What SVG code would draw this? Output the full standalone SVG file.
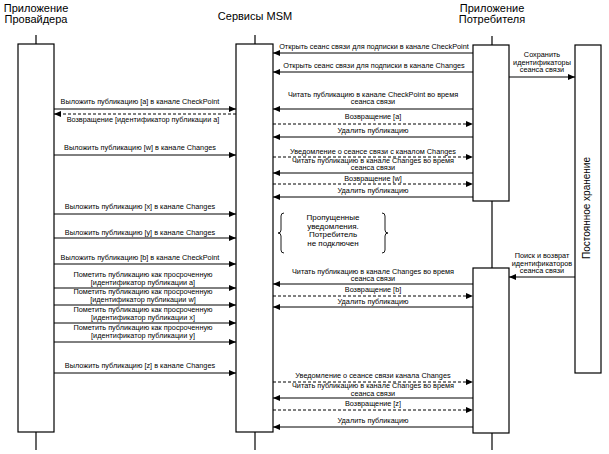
<svg xmlns="http://www.w3.org/2000/svg" width="609" height="454" viewBox="0 0 609 454">
<defs>
<marker id="ah" markerWidth="7" markerHeight="6" refX="7" refY="3" orient="auto" markerUnits="userSpaceOnUse"><path d="M0,0 L7,3 L0,6 z" fill="#000"/></marker>
<style>
.box{fill:#fff;stroke:#000;stroke-width:1.2}
.ll{stroke:#000;stroke-width:1.2}
.m{stroke:#000;stroke-width:1;fill:none;marker-end:url(#ah)}
.d{stroke-dasharray:3,2}
.t{font-family:"Liberation Sans",Arial,sans-serif;font-size:7.3px;fill:#000;text-anchor:middle}
.h{font-family:"Liberation Sans",Arial,sans-serif;font-size:11px;fill:#000;text-anchor:middle}
</style>
</defs>
<rect width="609" height="454" fill="#fff"/>
<g id="provider">
<text class="h" x="36" y="12">Приложение</text>
<text class="h" x="36" y="23">Провайдера</text>
<line class="ll" x1="36" y1="35" x2="36" y2="44"/>
<rect class="box" x="18" y="44" width="36" height="388"/>
<line class="ll" x1="36" y1="432" x2="36" y2="450"/>
</g>
<g id="msm">
<text class="h" x="255" y="20">Сервисы MSM</text>
<line class="ll" x1="255" y1="35" x2="255" y2="44"/>
<rect class="box" x="236" y="44" width="37" height="388"/>
<line class="ll" x1="255" y1="432" x2="255" y2="450"/>
</g>
<g id="consumer">
<text class="h" x="492" y="12">Приложение</text>
<text class="h" x="492" y="23">Потребителя</text>
<line class="ll" x1="492" y1="36" x2="492" y2="45"/>
<rect class="box" x="473" y="45" width="36" height="156"/>
<line class="ll" x1="492" y1="201" x2="492" y2="268"/>
<rect class="box" x="473" y="268" width="36" height="165"/>
<line class="ll" x1="492" y1="433" x2="492" y2="450"/>
</g>
<g id="storage">
<rect class="box" x="575" y="45" width="26" height="328"/>
<text class="h" style="font-size:10px" transform="translate(590,208) rotate(-90)">Постоянное хранение</text>
</g>
<g id="note">
<path d="M284,213 q-3,0 -3,3 v14 q0,3 -3,3 q3,0 3,3 v14 q0,3 3,3" fill="none" stroke="#000" stroke-width="0.9"/>
<path d="M382,213 q3,0 3,3 v14 q0,3 3,3 q-3,0 -3,3 v14 q0,3 -3,3" fill="none" stroke="#000" stroke-width="0.9"/>
<text class="t" style="font-size:8px" x="333" y="220">Пропущенные</text>
<text class="t" style="font-size:8px" x="333" y="228.5">уведомления.</text>
<text class="t" style="font-size:8px" x="333" y="237">Потребитель</text>
<text class="t" style="font-size:8px" x="333" y="245.5">не подключен</text>
</g>
<g id="connectors">
<line class="m" x1="473" y1="53" x2="273" y2="53"/>
<text class="t" x="374" y="49">Открыть сеанс связи для подписки в канале CheckPoint</text>
<line class="m" x1="473" y1="72" x2="273" y2="72"/>
<text class="t" x="374" y="68">Открыть сеанс связи для подписки в канале Changes</text>
<line class="m" x1="473" y1="109" x2="273" y2="109"/>
<text class="t" x="373" y="96.5">Читать публикацию в канале CheckPoint во время</text>
<text class="t" x="373" y="104">сеанса связи</text>
<line class="m d" x1="273" y1="124" x2="473" y2="124"/>
<text class="t" x="373" y="119">Возвращение [a]</text>
<line class="m" x1="473" y1="137" x2="273" y2="137"/>
<text class="t" x="373" y="133">Удалить публикацию</text>
<line class="m d" x1="273" y1="157" x2="473" y2="157"/>
<text class="t" x="373" y="154">Уведомление о сеансе связи с каналом Changes</text>
<line class="m" x1="473" y1="173" x2="273" y2="173"/>
<text class="t" x="373" y="162.5">Читать публикацию в канале Changes во время</text>
<text class="t" x="373" y="170">сеанса связи</text>
<line class="m d" x1="273" y1="184" x2="473" y2="184"/>
<text class="t" x="373" y="180.5">Возвращение [w]</text>
<line class="m" x1="473" y1="197" x2="273" y2="197"/>
<text class="t" x="373" y="193">Удалить публикацию</text>
<line class="m" x1="473" y1="284" x2="273" y2="284"/>
<text class="t" x="373" y="273.5">Читать публикацию в канале Changes во время</text>
<text class="t" x="373" y="281">сеанса связи</text>
<line class="m d" x1="273" y1="296" x2="473" y2="296"/>
<text class="t" x="373" y="291.5">Возвращение [b]</text>
<line class="m" x1="473" y1="307" x2="273" y2="307"/>
<text class="t" x="373" y="303.5">Удалить публикацию</text>
<line class="m d" x1="273" y1="382" x2="473" y2="382"/>
<text class="t" x="373" y="377.5">Уведомление о сеансе связи канала Changes</text>
<line class="m" x1="473" y1="398" x2="273" y2="398"/>
<text class="t" x="373" y="388">Читать публикацию в канале Changes во время</text>
<text class="t" x="373" y="395.5">сеанса связи</text>
<line class="m d" x1="273" y1="410" x2="473" y2="410"/>
<text class="t" x="373" y="406">Возвращение [z]</text>
<line class="m" x1="473" y1="427" x2="273" y2="427"/>
<text class="t" x="373" y="422.5">Удалить публикацию</text>
<line class="m" x1="509" y1="77" x2="575" y2="77"/>
<text class="t" x="542" y="57">Сохранить</text>
<text class="t" x="542" y="64.5">идентификаторы</text>
<text class="t" x="542" y="72">сеанса связи</text>
<line class="m" x1="575" y1="277" x2="509" y2="277"/>
<text class="t" x="542" y="258">Поиск и возврат</text>
<text class="t" x="542" y="265.5">идентификаторов</text>
<text class="t" x="542" y="273">сеанса связи</text>
<line class="m" x1="54" y1="109" x2="236" y2="109"/>
<text class="t" x="140" y="104">Выложить публикацию [a] в канале CheckPoint</text>
<line class="m d" x1="236" y1="114" x2="54" y2="114"/>
<text class="t" x="143" y="122">Возвращение [идентификатор публикации a]</text>
<line class="m" x1="54" y1="155" x2="236" y2="155"/>
<text class="t" x="140" y="150">Выложить публикацию [w] в канале Changes</text>
<line class="m" x1="54" y1="214" x2="236" y2="214"/>
<text class="t" x="140" y="209">Выложить публикацию [x] в канале Changes</text>
<line class="m" x1="54" y1="238" x2="236" y2="238"/>
<text class="t" x="140" y="235">Выложить публикацию [y] в канале Changes</text>
<line class="m" x1="54" y1="264" x2="236" y2="264"/>
<text class="t" x="140" y="260">Выложить публикацию [b] в канале CheckPoint</text>
<line class="m" x1="54" y1="288" x2="236" y2="288"/>
<text class="t" x="143" y="277">Пометить публикацию как просроченную</text>
<text class="t" x="143" y="284.5">[идентификатор публикации a]</text>
<line class="m" x1="54" y1="305" x2="236" y2="305"/>
<text class="t" x="143" y="294">Пометить публикацию как просроченную</text>
<text class="t" x="143" y="301.5">[идентификатор публикации w]</text>
<line class="m" x1="54" y1="323" x2="236" y2="323"/>
<text class="t" x="143" y="311.5">Пометить публикацию как просроченную</text>
<text class="t" x="143" y="319.5">[идентификатор публикации x]</text>
<line class="m" x1="54" y1="342" x2="236" y2="342"/>
<text class="t" x="143" y="330">Пометить публикацию как просроченную</text>
<text class="t" x="143" y="338">[идентификатор публикации y]</text>
<line class="m" x1="54" y1="373" x2="236" y2="373"/>
<text class="t" x="140" y="368">Выложить публикацию [z] в канале Changes</text>
</g>
</svg>
